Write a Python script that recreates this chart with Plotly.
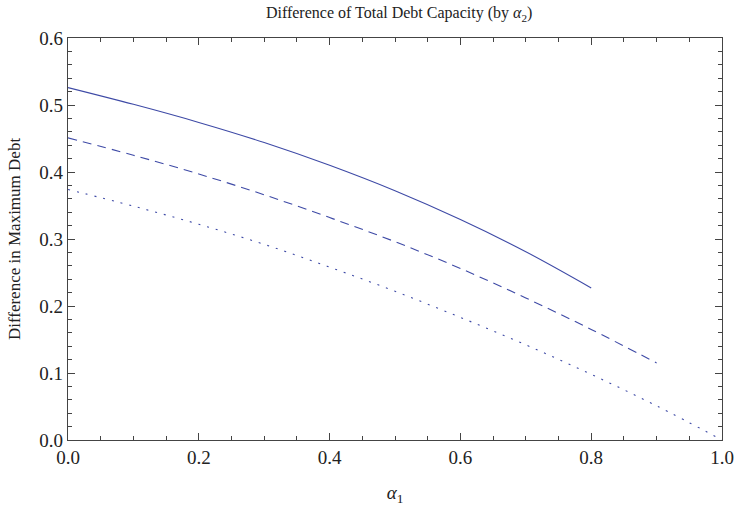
import plotly.graph_objects as go

x_solid = [0.0, 0.1, 0.2, 0.3, 0.4, 0.5, 0.6, 0.7, 0.8]
y_solid = [0.526, 0.501, 0.474, 0.444, 0.410, 0.372, 0.329, 0.281, 0.227]

x_dash = [0.0, 0.1, 0.2, 0.3, 0.4, 0.5, 0.6, 0.7, 0.8, 0.9]
y_dash = [0.451, 0.425, 0.397, 0.366, 0.332, 0.296, 0.256, 0.212, 0.165, 0.115]

x_dot = [0.0, 0.1, 0.2, 0.3, 0.4, 0.5, 0.6, 0.7, 0.8, 0.9, 1.0]
y_dot = [0.374, 0.349, 0.322, 0.292, 0.258, 0.222, 0.183, 0.142, 0.098, 0.051, 0.000]

x_ticks = [0.0, 0.2, 0.4, 0.6, 0.8, 1.0]
y_ticks = [0.0, 0.1, 0.2, 0.3, 0.4, 0.5, 0.6]

color = "#3e4aa6"
fig = go.Figure()
fig.add_trace(go.Scatter(x=x_solid, y=y_solid, mode="lines", line=dict(color=color, width=1.1, shape="spline")))
fig.add_trace(go.Scatter(x=x_dash, y=y_dash, mode="lines", line=dict(color=color, width=1.1, shape="spline", dash="9px,6px")))
fig.add_trace(go.Scatter(x=x_dot, y=y_dot, mode="lines", line=dict(color=color, width=1.1, shape="spline", dash="2px,7px")))

font = "Liberation Serif, Times New Roman, Times, serif"
axcol = "#444444"
fig.update_layout(
    width=746, height=511,
    margin=dict(l=68, r=13, t=38, b=63),
    paper_bgcolor="white", plot_bgcolor="white",
    showlegend=False,
    font=dict(family=font, size=19, color="#222222"),
    title=dict(text="Difference of Total Debt Capacity (by <i>α</i><sub>2</sub>)",
               x=0.535, xanchor="center", y=0.975, yanchor="middle",
               font=dict(family=font, size=16, color="#222222")),
    xaxis=dict(range=[0, 1], tickvals=x_ticks, ticktext=[f"{v:.1f}" for v in x_ticks],
               ticks="inside", ticklen=7, tickcolor=axcol, tickwidth=1,
               minor=dict(dtick=0.05, ticks="inside", ticklen=4, tickcolor=axcol, tickwidth=1),
               showline=True, linecolor=axcol, linewidth=1.2, mirror="allticks",
               showgrid=False, zeroline=False,
               tickfont=dict(family=font, size=19),
               title=dict(text="<i>α</i><sub>1</sub>", standoff=18, font=dict(family=font, size=19))),
    yaxis=dict(range=[0, 0.6], tickvals=y_ticks, ticktext=[f"{v:.1f}" for v in y_ticks],
               ticks="inside", ticklen=7, tickcolor=axcol, tickwidth=1,
               minor=dict(dtick=0.02, ticks="inside", ticklen=4, tickcolor=axcol, tickwidth=1),
               showline=True, linecolor=axcol, linewidth=1.2, mirror="allticks",
               showgrid=False, zeroline=False,
               tickfont=dict(family=font, size=19),
               title=dict(text="Difference in Maximum Debt", standoff=14, font=dict(family=font, size=17))),
)
fig.write_html("out.html")
